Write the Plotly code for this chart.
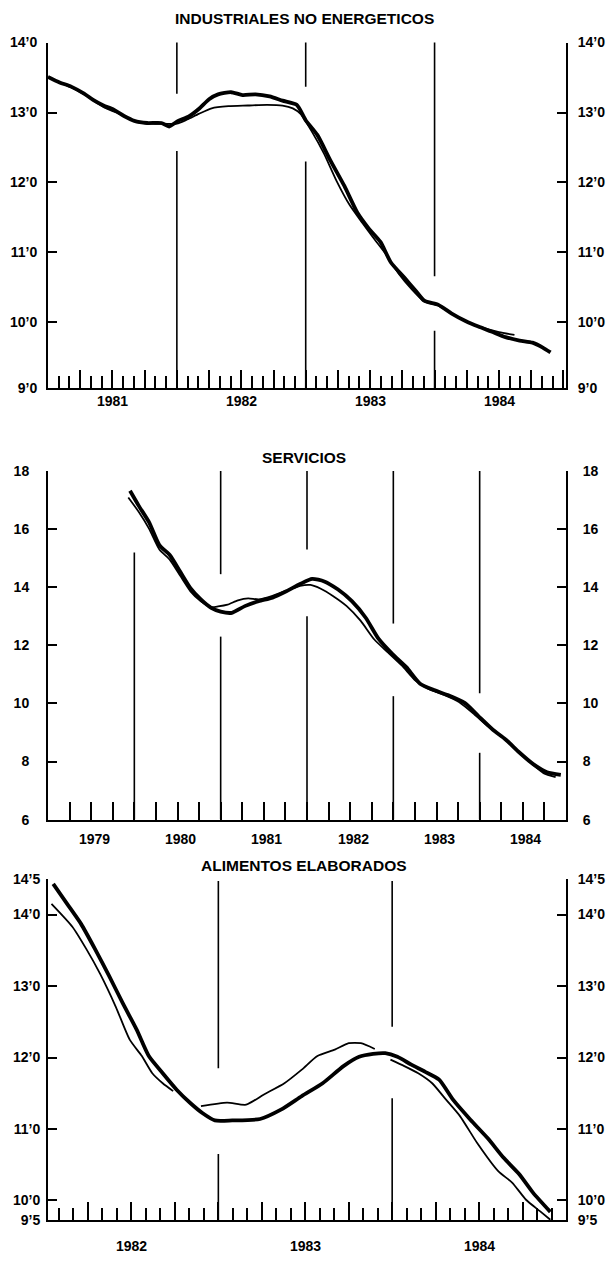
import plotly.graph_objects as go

# ---------------- DATA ----------------
# Panel 1: INDUSTRIALES NO ENERGETICOS
ind_x_thick = [1981.0, 1981.09, 1981.18, 1981.28, 1981.35, 1981.43, 1981.51, 1981.59, 1981.67, 1981.77,
               1981.88, 1981.94, 1982.01, 1982.09, 1982.17, 1982.25, 1982.32, 1982.42, 1982.51, 1982.61,
               1982.72, 1982.82, 1982.93, 1983.0, 1983.09, 1983.19, 1983.30, 1983.40, 1983.49, 1983.58,
               1983.66, 1983.77, 1983.85, 1983.92, 1984.03, 1984.13, 1984.24, 1984.34, 1984.44, 1984.55,
               1984.66, 1984.76, 1984.84, 1984.90]
ind_y_thick = [13.51, 13.43, 13.37, 13.27, 13.18, 13.10, 13.04, 12.95, 12.88, 12.85,
               12.85, 12.80, 12.88, 12.94, 13.05, 13.19, 13.26, 13.29, 13.25, 13.26,
               13.23, 13.17, 13.11, 12.89, 12.68, 12.32, 11.95, 11.57, 11.34, 11.15,
               10.86, 10.63, 10.46, 10.31, 10.25, 10.13, 10.02, 9.94, 9.87, 9.79,
               9.74, 9.71, 9.64, 9.57]
ind_x_thin = [1981.0, 1981.09, 1981.18, 1981.28, 1981.37, 1981.45, 1981.53, 1981.62, 1981.70, 1981.80,
              1981.90, 1982.0, 1982.08, 1982.17, 1982.27, 1982.40, 1982.55, 1982.70, 1982.82, 1982.90,
              1982.96, 1983.05, 1983.14, 1983.24, 1983.34, 1983.44, 1983.52, 1983.62, 1983.72, 1983.82,
              1983.92, 1984.03, 1984.14, 1984.26, 1984.38, 1984.50, 1984.62]
ind_y_thin = [13.50, 13.43, 13.36, 13.26, 13.15, 13.06, 13.00, 12.92, 12.86, 12.84,
              12.84, 12.84, 12.90, 12.98, 13.06, 13.09, 13.10, 13.11, 13.10, 13.06,
              12.98, 12.72, 12.42, 12.02, 11.68, 11.42, 11.22, 10.98, 10.70, 10.48,
              10.30, 10.24, 10.12, 10.00, 9.92, 9.86, 9.82]

# Panel 2: SERVICIOS
ser_x_thick = [1979.95, 1980.05, 1980.17, 1980.29, 1980.41, 1980.53, 1980.65, 1980.77, 1980.89, 1981.0,
               1981.13, 1981.28, 1981.44, 1981.60, 1981.76, 1981.92, 1982.06, 1982.20, 1982.36, 1982.52,
               1982.68, 1982.83, 1982.99, 1983.15, 1983.31, 1983.47, 1983.63, 1983.83, 1983.99, 1984.15,
               1984.30, 1984.46, 1984.62, 1984.78, 1984.94]
ser_y_thick = [17.32, 16.81, 16.24, 15.45, 15.11, 14.54, 13.97, 13.58, 13.29, 13.16,
               13.12, 13.35, 13.52, 13.64, 13.86, 14.11, 14.29, 14.20, 13.92, 13.52,
               12.95, 12.22, 11.70, 11.25, 10.68, 10.46, 10.29, 10.01, 9.55, 9.10,
               8.76, 8.31, 7.91, 7.63, 7.54]
ser_x_thin = [1979.93, 1980.05, 1980.17, 1980.29, 1980.41, 1980.53, 1980.65, 1980.77, 1980.89, 1980.97,
              1981.08, 1981.20, 1981.32, 1981.44, 1981.60, 1981.76, 1981.92, 1982.04, 1982.16, 1982.30,
              1982.46, 1982.62, 1982.78, 1982.94, 1983.10, 1983.26, 1983.42, 1983.58, 1983.76, 1983.94,
              1984.10, 1984.26, 1984.42, 1984.58, 1984.74, 1984.88]
ser_y_thin = [17.09, 16.60, 16.02, 15.30, 14.95, 14.40, 13.86, 13.52, 13.32, 13.34,
              13.40, 13.55, 13.62, 13.58, 13.70, 13.88, 14.05, 14.08, 13.95, 13.70,
              13.35, 12.85, 12.20, 11.75, 11.30, 10.78, 10.48, 10.30, 10.05, 9.62,
              9.20, 8.85, 8.40, 7.98, 7.60, 7.46]

# Panel 3: ALIMENTOS ELABORADOS
ali_x_thick = [1982.05, 1982.13, 1982.21, 1982.29, 1982.37, 1982.45, 1982.53, 1982.60, 1982.68, 1982.76,
               1982.84, 1982.91, 1982.98, 1983.08, 1983.24, 1983.36, 1983.48, 1983.60, 1983.72, 1983.81,
               1983.89, 1983.96, 1984.03, 1984.11, 1984.19, 1984.27, 1984.35, 1984.45, 1984.55, 1984.64,
               1984.73, 1984.81, 1984.91]
ali_y_thick = [14.43, 14.15, 13.87, 13.52, 13.15, 12.76, 12.39, 12.02, 11.78, 11.55,
               11.36, 11.22, 11.12, 11.12, 11.14, 11.27, 11.46, 11.64, 11.88, 12.01,
               12.05, 12.06, 12.01, 11.90, 11.80, 11.69, 11.41, 11.13, 10.87, 10.60,
               10.37, 10.11, 9.84]
# thin series is drawn in three separate pieces (None = break)
ali_x_thin = [1982.04, 1982.16, 1982.24, 1982.32, 1982.41, 1982.49, 1982.56, 1982.62, 1982.68, 1982.74,
              None,
              1982.90, 1983.05, 1983.16, 1983.26, 1983.38, 1983.48, 1983.57, 1983.67, 1983.75, 1983.82,
              1983.90,
              None,
              1983.99, 1984.07, 1984.15, 1984.23, 1984.31, 1984.39, 1984.49, 1984.61, 1984.69, 1984.77,
              1984.85, 1984.91]
ali_y_thin = [14.15, 13.83, 13.52, 13.17, 12.71, 12.25, 12.02, 11.78, 11.64, 11.53,
              None,
              11.32, 11.37, 11.34, 11.48, 11.64, 11.83, 12.02, 12.11, 12.20, 12.20,
              12.12,
              None,
              11.97, 11.88, 11.78, 11.64, 11.41, 11.18, 10.80, 10.41, 10.25, 10.01,
              9.85, 9.73]

# axis tick labels
ind_tickvals = [9.06, 10.0, 11.0, 12.0, 13.0, 14.0]        # bottom of the scale is labelled 9'0
ind_ticktext = ["9’0", "10’0", "11’0", "12’0", "13’0", "14’0"]
ser_tickvals = [6, 8, 10, 12, 14, 16, 18]
ser_ticktext = ["6", "8", "10", "12", "14", "16", "18"]
ali_tickvals = [9.72, 10.0, 11.0, 12.0, 13.0, 14.0, 14.5]  # bottom of the broken scale is labelled 9'5
ali_ticktext = ["9’5", "10’0", "11’0", "12’0", "13’0", "14’0", "14’5"]

ind_years = [1981, 1982, 1983, 1984]
ser_years = [1979, 1980, 1981, 1982, 1983, 1984]
ali_years = [1982, 1983, 1984]

# year dividers: (year boundary, [visible segments in value units])
ind_dividers = [(1982, [(9.06, 12.45), (13.27, 14.04)]),
                (1983, [(9.06, 12.30), (13.37, 14.05)]),
                (1984, [(9.06, 9.88), (10.66, 14.05)])]
ser_dividers = [(1980, [(6, 15.2)]),
                (1981, [(6, 12.3), (14.45, 18.0)]),
                (1982, [(6, 13.0), (15.3, 18.0)]),
                (1983, [(6, 10.25), (12.75, 18.0)]),
                (1984, [(6, 8.3), (10.35, 18.0)])]
ali_dividers = [(1983, [(9.72, 10.65), (11.85, 14.47)]),
                (1984, [(9.72, 11.43), (12.43, 14.47)])]

titles = ["INDUSTRIALES NO ENERGETICOS", "SERVICIOS", "ALIMENTOS ELABORADOS"]

# ---------------- LAYOUT ----------------
W, H = 607, 1265
FONT = "Liberation Sans, Arial, Helvetica, sans-serif"

def px_y(p):
    return 1 - p / H

panels = [
    dict(title=titles[0], xr=[1981.0, 1985.02], yr=[9.06, 14.0], top=35, bot=385,
         tv=ind_tickvals, tt=ind_ticktext, years=ind_years, div=ind_dividers,
         thick=(ind_x_thick, ind_y_thick), thin=(ind_x_thin, ind_y_thin),
         monthly=True, std_l=6, std_r=7, title_y=11, ylab_shift=-3, x0=1981.0, yl_x=0),
    dict(title=titles[1], xr=[1979.0, 1985.0], yr=[6, 18], top=469, bot=822,
         tv=ser_tickvals, tt=ser_ticktext, years=ser_years, div=ser_dividers,
         thick=(ser_x_thick, ser_y_thick), thin=(ser_x_thin, ser_y_thin),
         monthly=False, std_l=14, std_r=12, title_y=455, ylab_shift=-9, x0=1979.0, yl_x=3),
    dict(title=titles[2], xr=[1982.02, 1985.0], yr=[9.72, 14.5], top=882, bot=1228,
         tv=ali_tickvals, tt=ali_ticktext, years=ali_years, div=ali_dividers,
         thick=(ali_x_thick, ali_y_thick), thin=(ali_x_thin, ali_y_thin),
         monthly=True, std_l=3, std_r=7, title_y=868, ylab_shift=-16, x0=1982.0, yl_x=0),
]

fig = go.Figure()
layout = dict(width=W, height=H, margin=dict(l=0, r=0, t=0, b=0),
              paper_bgcolor="white", plot_bgcolor="white", showlegend=False,
              font=dict(family=FONT, size=13, color="black"))
annotations = []
shapes = []

for i, p in enumerate(panels):
    xi = "" if i == 0 else str(i + 1)
    yl = str(2 * i + 1) if i > 0 else ""
    yr_ = str(2 * i + 2)
    xname, ylname, yrname = "x" + xi, "y" + yl, "y" + yr_
    dom_x = [48 / W, 566 / W]
    dom_y = [px_y(p["bot"]), px_y(p["top"])]

    xa = dict(domain=dom_x, range=p["xr"], anchor=ylname, showgrid=False, zeroline=False,
              showline=True, linewidth=2, linecolor="black", showticklabels=False,
              ticks="inside", tickmode="linear", tick0=p["x0"],
              dtick=0.25, ticklen=18, tickwidth=1.6, tickcolor="black")
    if p["monthly"]:
        xa["minor"] = dict(ticks="inside", tickmode="linear", tick0=p["x0"], dtick=1 / 12,
                           ticklen=12, tickwidth=1.6, tickcolor="black", showgrid=False)
    yal = dict(domain=dom_y, range=p["yr"], anchor=xname, showgrid=False, zeroline=False,
               showline=True, linewidth=2, linecolor="black", ticks="inside", ticklen=9,
               tickwidth=2, tickcolor="black", tickmode="array", tickvals=p["tv"],
               ticktext=p["tt"], ticklabelstandoff=p["std_l"],
               tickfont=dict(family=FONT, size=14, color="black", weight="bold"))
    yar = dict(yal)
    yar.update(overlaying=ylname, side="right", ticklabelstandoff=p["std_r"])
    yar.pop("domain")

    layout["xaxis" + xi] = xa
    layout["yaxis" + yl] = yal
    layout["yaxis" + yr_] = yar

    tx, ty = p["thin"]
    fig.add_trace(go.Scatter(x=tx, y=ty, mode="lines", xaxis=xname, yaxis=ylname,
                             line=dict(color="black", width=1.8, shape="spline", smoothing=0.6),
                             connectgaps=False, hoverinfo="skip"))
    kx, ky = p["thick"]
    fig.add_trace(go.Scatter(x=kx, y=ky, mode="lines", xaxis=xname, yaxis=ylname,
                             line=dict(color="black", width=3.8, shape="spline", smoothing=0.6),
                             hoverinfo="skip"))
    fig.add_trace(go.Scatter(x=[], y=[], xaxis=xname, yaxis=yrname, mode="lines",
                             hoverinfo="skip"))

    for yr, segs in p["div"]:
        for a, b in segs:
            shapes.append(dict(type="line", xref=xname, yref=ylname, x0=yr, x1=yr, y0=a, y1=b,
                               line=dict(color="black", width=1.6)))

    for yv in p["years"]:
        annotations.append(dict(x=yv + 0.5, y=0, xref=xname, yref=ylname + " domain",
                                text=str(yv), showarrow=False, yanchor="top",
                                yshift=p["ylab_shift"], xshift=p["yl_x"],
                                font=dict(family=FONT, size=14, color="black", weight="bold")))

    annotations.append(dict(x=304 / W, y=px_y(p["title_y"]), xref="paper", yref="paper",
                            text=p["title"], showarrow=False, xanchor="center", yanchor="middle",
                            font=dict(family=FONT, size=15.5, color="black", weight="bold")))

layout["annotations"] = annotations
layout["shapes"] = shapes
fig.update_layout(**layout)
fig.write_html("out.html")
